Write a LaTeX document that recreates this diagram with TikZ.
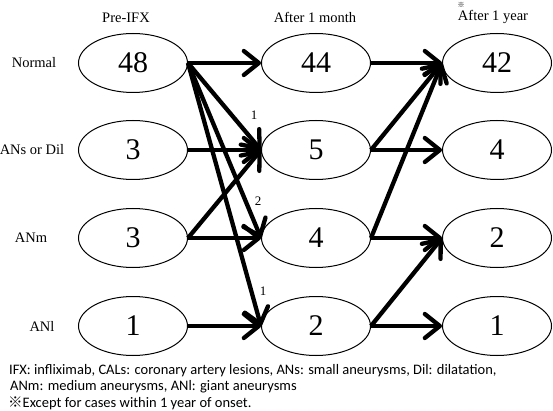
\documentclass[tikz,border=0pt]{standalone}
\usepackage{fontspec}
\setmainfont{Liberation Serif}
\newfontfamily\notefont{Carlito}
\newfontfamily\cjk{Noto Sans CJK JP}
\usetikzlibrary{arrows.meta,shapes.geometric}

\begin{document}
\begin{tikzpicture}[x=1pt,y=-1pt,
	oval/.style={draw,ellipse,line width=1pt,inner sep=0pt,minimum width=109pt,minimum height=59pt,font=\fontsize{30}{30}\selectfont},
	flow/.style={line width=4.3pt,-{Straight Barb[length=15pt,width=24pt,round]}},
	lab/.style={font=\fontsize{14.5}{17}\selectfont},
	cnt/.style={font=\fontsize{13}{15}\selectfont},
	note/.style={anchor=west,inner sep=0pt,font=\notefont\fontsize{14.5}{16}\selectfont}]
	\useasboundingbox (0,0) rectangle (553,411);

	% column heads
	\node[lab] (hpre) at (126,18) {Pre-IFX};
	\node[lab] (hmon) at (315,17) {After 1 month};
	\node[lab] (hyear) at (493,17) {After 1 year};
	\node[font=\cjk\fontsize{7}{7}\selectfont] (hmark) at (461,5) {※};

	% row heads
	\node[lab] (rnormal) at (34,63) {Normal};
	\node[lab] (rdil) at (32,150) {ANs or Dil};
	\node[lab] (rm) at (31,238) {ANm};
	\node[lab] (rl) at (42,326) {ANl};

	% Pre-IFX
	\node[oval] (pa) at (133,63) {48};
	\node[oval] (pb) at (133,150) {3};
	\node[oval] (pc) at (133,238) {3};
	\node[oval] (pd) at (133,326) {1};

	% after 1 month
	\node[oval] (ma) at (316,63) {44};
	\node[oval] (mb) at (316,150) {5};
	\node[oval] (mc) at (316,238) {4};
	\node[oval] (md) at (316,326) {2};

	% after 1 year
	\node[oval] (ya) at (497,63) {42};
	\node[oval] (yb) at (497,150) {4};
	\node[oval] (yc) at (497,238) {2};
	\node[oval] (yd) at (497,326) {1};

	% Pre-IFX -> 1 month
	\draw[flow] (pa.east) -- (ma.west);
	\draw[flow] (pa.east) -- (mb.west);
	\draw[flow] (pa.east) -- (mc.west);
	\draw[flow] (pa.east) -- (md.west);
	\draw[flow] (pb.east) -- (mb.west);
	\draw[flow] (pc.east) -- (mb.west);
	\draw[flow] (pc.east) -- (mc.west);
	\draw[flow] (pd.east) -- (md.west);
	\node[cnt] (ca) at (254,115) {1};
	\node[cnt] (cb) at (258,201) {2};
	\node[cnt] (cc) at (263,291) {1};

	% 1 month -> 1 year
	\draw[flow] (ma.east) -- (ya.west);
	\draw[flow] (mb.east) -- (ya.west);
	\draw[flow] (mb.east) -- (yb.west);
	\draw[flow] (mc.east) -- (ya.west);
	\draw[flow] (mc.east) -- (yc.west);
	\draw[flow] (md.east) -- (yc.west);
	\draw[flow] (md.east) -- (yd.west);

	% notes
	\node[note] (n1) at (9,371) {IFX: infliximab, CALs: coronary artery lesions, ANs: small aneurysms, Dil: dilatation,};
	\node[note] (n2) at (10,387) {ANm: medium aneurysms, ANl: giant aneurysms};
	\node[note] (n3) at (8,403) {{\cjk ※}Except for cases within 1 year of onset.};
\end{tikzpicture}
\end{document}
